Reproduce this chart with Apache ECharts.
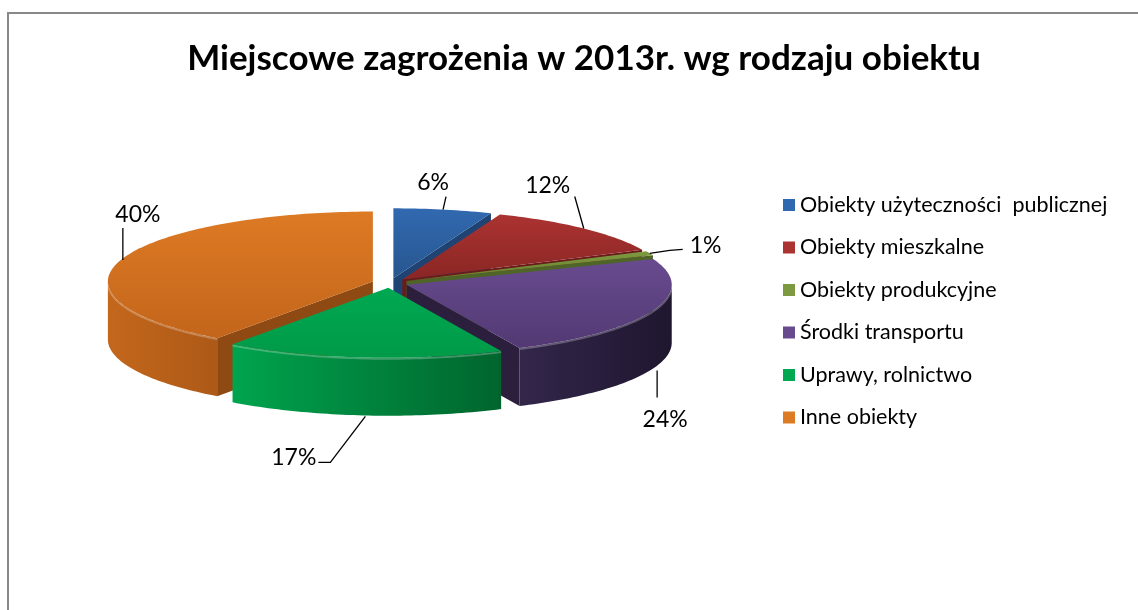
<!DOCTYPE html>
<html>
<head>
<meta charset="utf-8">
<script src="https://cdn.jsdelivr.net/npm/echarts@6/dist/echarts.min.js"></script>
<style>
  html, body { margin: 0; padding: 0; background: #fff; }
  #chart { width: 1138px; height: 610px; }
</style>
</head>
<body>
<div id="chart"></div>
<script>
// dane wykresu
const categories = ['Obiekty użyteczności  publicznej', 'Obiekty mieszkalne', 'Obiekty produkcyjne', 'Środki transportu', 'Uprawy, rolnictwo', 'Inne obiekty'];
const values = [6, 12, 1, 24, 17, 40];

// kolory: góra (jasny, ciemny), ściana boczna (lewa, prawa), ścianka promieniowa
const topColors = [['#3169b0', '#27568f'], ['#ab3331', '#8a2624'], ['#7d9a40', '#63802c'], ['#684b8f', '#523973'], ['#00a852', '#009a48'], ['#dd7a24', '#c3651b']];
const wallColors = [['#24508a', '#1d4272'], ['#7a2120', '#661b1a'], ['#5c7430', '#4d6228'], ['#33264b', '#1f162f'], ['#00a44e', '#00652d'], ['#c3671c', '#ad5917']];
const faceColors = ['#1f4372', '#6a1c1b', '#4f6427', '#2b1f3d', '#007a38', '#8f4913'];

// ułożenie etykiet względem punktu zaczepienia (linia, tekst)
const labelLayout = [
  { line: [[0, 0], [3, -13]], text: [-10, -27], align: 'center' },
  { line: [[0, 0], [-9, -32]], text: [-36, -43], align: 'center' },
  { line: [[0, 0], [20, -3], [33, -4]], text: [40, -8], align: 'left' },
  { line: [[4, 2], [4, 29]], text: [12, 51], align: 'center' },
  { line: [[2, 1], [-33, 47], [-45, 47]], text: [-47, 42], align: 'right' },
  { line: [[2, 0], [2, -32]], text: [17, -45], align: 'center' }
];

const cx = 390, cy = 283, rx = 265, ry = 70, depth = 58, explode = 18;

const total = values.reduce((s, v) => s + v, 0);
let acc = 0;
const slices = values.map(v => {
  const s = acc / total * Math.PI * 2;
  acc += v;
  return [s, acc / total * Math.PI * 2];
});

function pt(ox, oy, t, dy) {
  return [ox + rx * Math.sin(t), oy - ry * Math.cos(t) + (dy || 0)];
}
function arc(ox, oy, t0, t1, dy) {
  const n = Math.max(2, Math.ceil(Math.abs(t1 - t0) / 0.02));
  const pts = [];
  for (let i = 0; i <= n; i++) pts.push(pt(ox, oy, t0 + (t1 - t0) * i / n, dy));
  return pts;
}
function grad(horizontal, c) {
  return new echarts.graphic.LinearGradient(0, 0, horizontal ? 1 : 0, horizontal ? 0 : 1, [
    { offset: 0, color: c[0] }, { offset: 1, color: c[1] }
  ]);
}

function makeRender(idx) {
  return function (params, api) {
    const s = api.value(0), e = api.value(1), m = (s + e) / 2;
    const ox = cx + explode * Math.sin(m);
    const oy = cy - explode * (ry / rx) * Math.cos(m);
    const children = [];
    // ścianki promieniowe
    [[s, Math.sin(s) < -1e-6], [e, Math.sin(e) > 1e-6]].forEach(([t, vis]) => {
      if (!vis) return;
      children.push({
        type: 'polygon',
        shape: { points: [[ox, oy], pt(ox, oy, t), pt(ox, oy, t, depth), [ox, oy + depth]] },
        style: { fill: faceColors[idx] }
      });
    });
    // ściana zewnętrzna (tylko przód)
    const w0 = Math.max(s, Math.PI / 2), w1 = Math.min(e, Math.PI * 1.5);
    if (w1 > w0) {
      children.push({
        type: 'polygon',
        shape: { points: arc(ox, oy, w0, w1, 0).concat(arc(ox, oy, w1, w0, depth)) },
        style: { fill: grad(true, wallColors[idx]) }
      });
      children.push({
        type: 'polyline',
        shape: { points: arc(ox, oy, w0, w1, 1) },
        style: { stroke: 'rgba(255,255,255,0.25)', lineWidth: 2, fill: null }
      });
    }
    // góra
    children.push({
      type: 'polygon',
      shape: { points: [[ox, oy]].concat(arc(ox, oy, s, e, 0)) },
      style: { fill: grad(false, topColors[idx]) }
    });
    // etykieta
    const front = -Math.cos(m) > 0;
    const anchor = pt(ox, oy, m, front ? depth : 0);
    const lay = labelLayout[idx];
    children.push({
      type: 'polyline',
      shape: { points: lay.line.map(p => [anchor[0] + p[0], anchor[1] + p[1]]) },
      style: { stroke: '#000', lineWidth: 1.3, fill: null }
    });
    children.push({
      type: 'text',
      style: {
        text: Math.round(values[idx] / total * 100) + '%',
        x: anchor[0] + lay.text[0], y: anchor[1] + lay.text[1],
        fill: '#000', font: '23px Lato', align: lay.align, verticalAlign: 'middle'
      }
    });
    return { type: 'group', children: children };
  };
}

// kolejność rysowania: od tyłu do przodu
const order = slices.map((sl, i) => [i, -Math.cos((sl[0] + sl[1]) / 2)]).sort((a, b) => a[1] - b[1]).map(d => d[0]);

const series = categories.map((name, i) => ({
  type: 'custom',
  name: name,
  coordinateSystem: 'none',
  silent: true,
  z: 2 + order.indexOf(i),
  itemStyle: { color: topColors[i][0] },
  data: [slices[i]],
  renderItem: makeRender(i)
}));

const chart = echarts.init(document.getElementById('chart'));
chart.setOption({
  animation: false,
  title: {
    text: 'Miejscowe zagrożenia w 2013r. wg rodzaju obiektu',
    left: 579, top: 36, textAlign: 'center',
    textStyle: { fontFamily: 'Lato', fontWeight: 'bold', fontSize: 35, color: '#000' }
  },
  legend: {
    orient: 'vertical', left: 783, top: 194, padding: 0,
    icon: 'rect', itemWidth: 12, itemHeight: 12, itemGap: 20.5,
    data: categories,
    selectedMode: false,
    textStyle: { fontFamily: 'Lato', fontSize: 21.5, color: '#000', lineHeight: 22 }
  },
  graphic: [{
    type: 'rect', silent: true,
    shape: { x: 8, y: 13, width: 1200, height: 700 },
    style: { fill: null, stroke: '#888', lineWidth: 2 }
  }],
  series: series
});
</script>
</body>
</html>
